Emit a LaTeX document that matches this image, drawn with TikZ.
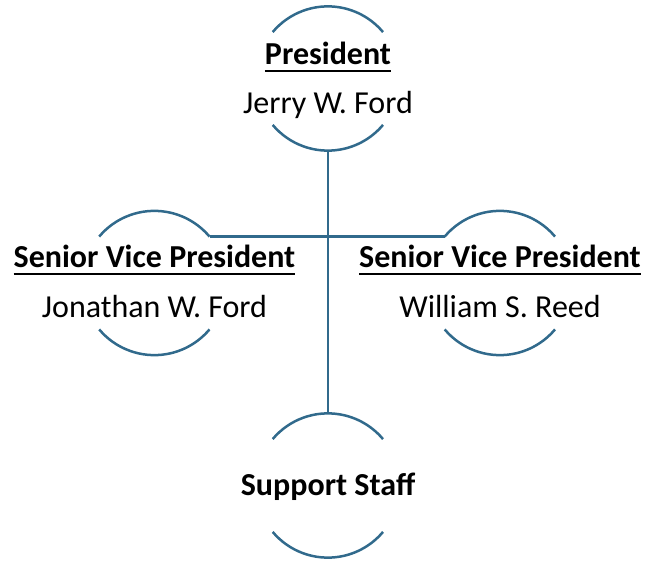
\documentclass[tikz,border=0pt]{standalone}
\usepackage{fontspec}
\setmainfont{Carlito}
\definecolor{orgline}{RGB}{49,106,140}
% bold heading with a heavy underline
\newcommand\headul[1]{\setbox0\hbox{\bfseries #1}\leavevmode\rlap{\rule[-7pt]{\wd0}{2pt}}\box0}
\tikzset{
  unit/.style={circle, minimum size=144pt, inner sep=0pt, draw=none},
  orgarc/.style={draw=orgline, line width=2.5pt},
  orgconn/.style={draw=orgline, line width=2.5pt},
  label/.style={anchor=base, inner sep=0pt, font=\fontsize{32}{38}\selectfont}
}
\begin{document}
\begin{tikzpicture}[x=1pt,y=1pt]
  \useasboundingbox (0,0) rectangle (647,-561);
  % the four position units
  \node[unit] (pres)  at (328,-78.5) {};
  \node[unit] (svpa)  at (154.5,-283) {};
  \node[unit] (svpb)  at (500,-283) {};
  \node[unit] (staff) at (328,-485.5) {};
  % arcs above and below each unit
  \foreach \n in {pres,svpa,svpb,staff} {
    \draw[orgarc] (\n.140) arc[start angle=140, end angle=40, radius=72pt];
    \draw[orgarc] (\n.220) arc[start angle=220, end angle=320, radius=72pt];
  }
  % connectors
  \draw[orgconn] (pres.south) -- (staff.north);
  \draw[orgconn] (svpa.40) -- (svpb.140);
  % texts
  \node[label] (pres-title) at (328,-65) {\headul{President}};
  \node[label] (pres-name)  at (328,-114) {Jerry W. Ford};
  \node[label] (svpa-title) at (154.5,-267.5) {\headul{Senior Vice President}};
  \node[label] (svpa-name)  at (154.5,-317) {Jonathan W. Ford};
  \node[label] (svpb-title) at (500,-267.5) {\headul{Senior Vice President}};
  \node[label] (svpb-name)  at (500,-317) {William S. Reed};
  \node[label] (staff-title) at (328,-495) {\bfseries Support Staff};
\end{tikzpicture}
\end{document}
